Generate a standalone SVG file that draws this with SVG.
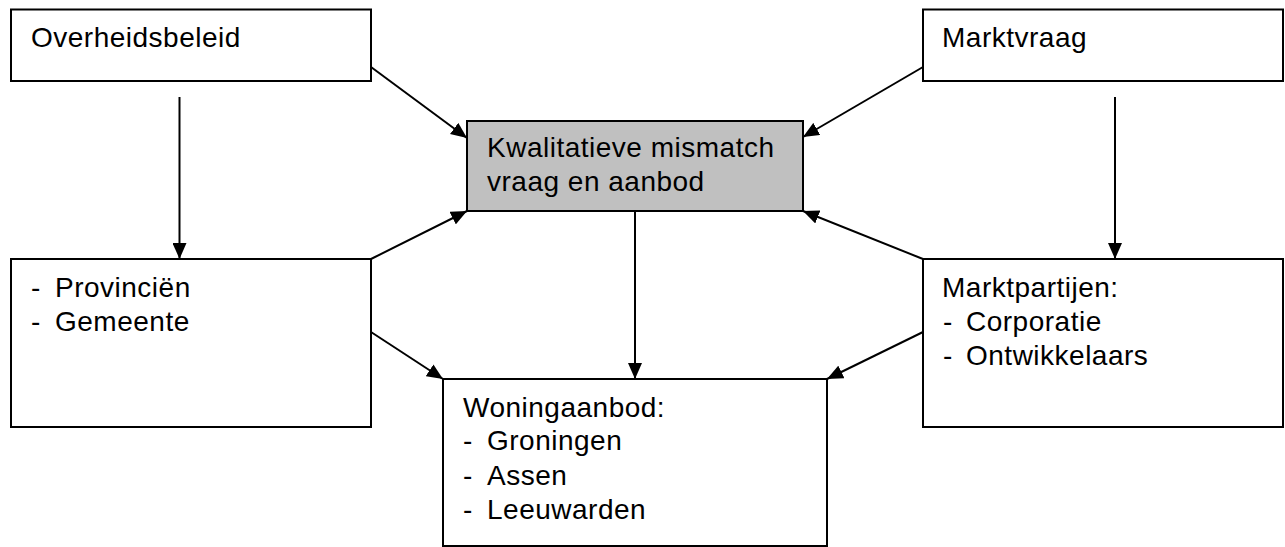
<svg xmlns="http://www.w3.org/2000/svg" width="1285" height="547" viewBox="0 0 1285 547">
<style>
  .box { fill: #ffffff; stroke: #000000; stroke-width: 2; }
  .core { fill: #c0c0c0; stroke: #000000; stroke-width: 2; }
  .lbl { font-family: "Liberation Sans", Arial, sans-serif; font-size: 28px; letter-spacing: 0.5px; fill: #000000; }
  .conn { stroke: #000000; stroke-width: 2; fill: none; marker-end: url(#arr); }
</style>
<defs>
  <marker id="arr" markerUnits="userSpaceOnUse" viewBox="0 0 16 14" refX="16" refY="7" markerWidth="16" markerHeight="14" orient="auto">
    <path d="M0,0 L16,7 L0,14 z" fill="#000000"/>
  </marker>
</defs>
<rect width="1285" height="547" fill="#ffffff"/>

<g id="overheidsbeleid">
  <rect class="box" x="11" y="9.5" width="360" height="71.5"/>
  <text class="lbl" x="31" y="47">Overheidsbeleid</text>
</g>

<g id="marktvraag">
  <rect class="box" x="923" y="9.5" width="360" height="71.5"/>
  <text class="lbl" x="942" y="47">Marktvraag</text>
</g>

<g id="mismatch">
  <rect class="core" x="467" y="121" width="336" height="90"/>
  <text class="lbl" x="487" y="157">Kwalitatieve mismatch</text>
  <text class="lbl" x="487" y="191">vraag en aanbod</text>
</g>

<g id="overheden">
  <rect class="box" x="11" y="259" width="360" height="168"/>
  <text class="lbl" x="31" y="297">-</text>
  <text class="lbl" x="55" y="297">Provinciën</text>
  <text class="lbl" x="31" y="331">-</text>
  <text class="lbl" x="55" y="331">Gemeente</text>
</g>

<g id="marktpartijen">
  <rect class="box" x="923" y="259" width="360" height="168"/>
  <text class="lbl" x="942" y="297">Marktpartijen:</text>
  <text class="lbl" x="943" y="331">-</text>
  <text class="lbl" x="966" y="331">Corporatie</text>
  <text class="lbl" x="943" y="365">-</text>
  <text class="lbl" x="966" y="365">Ontwikkelaars</text>
</g>

<g id="woningaanbod">
  <rect class="box" x="443" y="379" width="384" height="167"/>
  <text class="lbl" x="463" y="417">Woningaanbod:</text>
  <text class="lbl" x="463" y="450">-</text>
  <text class="lbl" x="487" y="450">Groningen</text>
  <text class="lbl" x="463" y="485">-</text>
  <text class="lbl" x="487" y="485">Assen</text>
  <text class="lbl" x="463" y="519">-</text>
  <text class="lbl" x="487" y="519">Leeuwarden</text>
</g>

<g id="connectors">
  <line class="conn" x1="179.5" y1="97" x2="179.5" y2="259"/>
  <line class="conn" x1="1115" y1="97" x2="1115" y2="259"/>
  <line class="conn" x1="635" y1="211" x2="635" y2="379"/>
  <line class="conn" x1="371" y1="67" x2="467" y2="138"/>
  <line class="conn" x1="923" y1="67" x2="803" y2="137"/>
  <line class="conn" x1="371" y1="259" x2="467" y2="211"/>
  <line class="conn" x1="923" y1="259" x2="803" y2="211"/>
  <line class="conn" x1="371" y1="332" x2="443" y2="379"/>
  <line class="conn" x1="923" y1="332" x2="827" y2="379"/>
</g>
</svg>
